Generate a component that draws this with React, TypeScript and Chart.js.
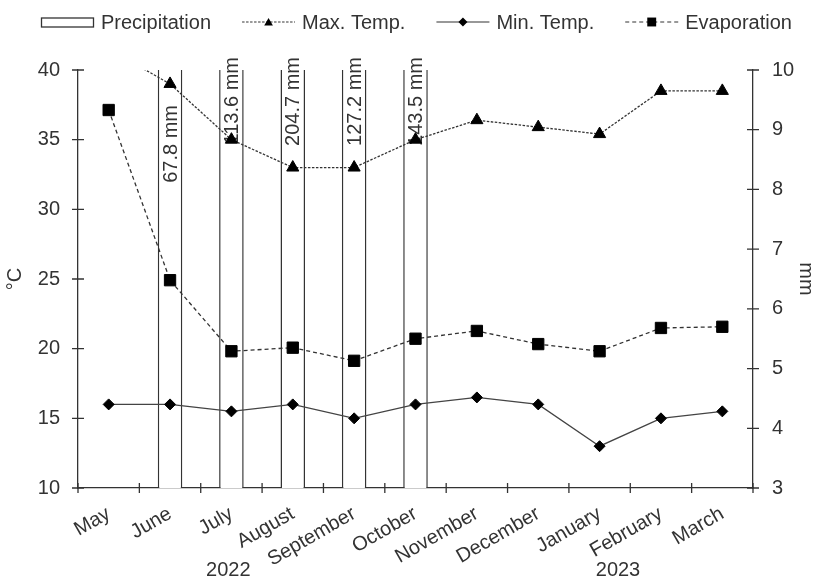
import React, { useEffect, useRef } from 'react';
import { Chart, registerables } from 'chart.js';

Chart.register(...registerables);

const categories = ['May', 'June', 'July', 'August', 'September', 'October', 'November', 'December', 'January', 'February', 'March'];
const precipitation = [null, 67.8, 113.6, 204.7, 127.2, 143.5, null, null, null, null, null];
const maxTemp = [41.5, 39, 35, 33, 33, 35, 36.4, 35.9, 35.4, 38.5, 38.5];
const minTemp = [16, 16, 15.5, 16, 15, 16, 16.5, 16, 13, 15, 15.5];
const evaporation = [9.33, 6.48, 5.29, 5.35, 5.13, 5.5, 5.63, 5.41, 5.29, 5.68, 5.7];
const yearLabels = ['2022', '2023'];

const FONT = '"Liberation Sans", Arial, Helvetica, sans-serif';
const TEXT = '#333333';
const AXIS = '#333333';
const LINE = '#333333';

function drawMarker(ctx: CanvasRenderingContext2D, style: string, x: number, y: number, r: number) {
  ctx.beginPath();
  if (style === 'triangle') {
    ctx.moveTo(x, y - r);
    ctx.lineTo(x + Math.sin((2 * Math.PI) / 3) * r, y - Math.cos((2 * Math.PI) / 3) * r);
    ctx.lineTo(x + Math.sin((4 * Math.PI) / 3) * r, y - Math.cos((4 * Math.PI) / 3) * r);
  } else if (style === 'rectRot') {
    ctx.moveTo(x - r, y);
    ctx.lineTo(x, y - r);
    ctx.lineTo(x + r, y);
    ctx.lineTo(x, y + r);
  } else {
    const s = Math.SQRT1_2 * r;
    ctx.rect(x - s, y - s, 2 * s, 2 * s);
  }
  ctx.closePath();
  ctx.fill();
}

export default function App() {
  const ref = useRef<HTMLCanvasElement>(null);

  useEffect(() => {
    const canvas = ref.current;
    if (!canvas) return;

    const precipLabels = {
      id: 'precipLabels',
      afterDatasetDraw(chart: any, args: any) {
        if (args.index !== 0) return;
        const meta = chart.getDatasetMeta(0);
        const ctx = chart.ctx as CanvasRenderingContext2D;
        const top = chart.chartArea.top;
        ctx.save();
        ctx.font = `20px ${FONT}`;
        ctx.fillStyle = TEXT;
        ctx.textAlign = 'right';
        ctx.textBaseline = 'middle';
        meta.data.forEach((bar: any, i: number) => {
          const v = precipitation[i];
          if (v == null) return;
          const endY = v >= 100 ? top - 13 : top + 35;
          ctx.save();
          ctx.translate(bar.x + 1, endY);
          ctx.rotate(-Math.PI / 2);
          ctx.fillText(`${v.toFixed(1)} mm`, 0, 0);
          ctx.restore();
        });
        ctx.restore();
      },
    };

    const decorations = {
      id: 'decorations',
      afterDraw(chart: any) {
        const ctx = chart.ctx as CanvasRenderingContext2D;
        const { chartArea, scales } = chart;
        // crossing tick marks
        ctx.save();
        ctx.strokeStyle = AXIS;
        ctx.lineWidth = 1.3;
        ctx.beginPath();
        scales.y.ticks.forEach((t: any) => {
          const y = scales.y.getPixelForValue(t.value);
          ctx.moveTo(chartArea.left - 6, y);
          ctx.lineTo(chartArea.left + 6, y);
        });
        scales.y1.ticks.forEach((t: any) => {
          const y = scales.y1.getPixelForValue(t.value);
          ctx.moveTo(chartArea.right - 6, y);
          ctx.lineTo(chartArea.right + 6, y);
        });
        for (let i = 0; i <= categories.length; i++) {
          const x = scales.x.getPixelForValue(i - 0.5);
          ctx.moveTo(x, chartArea.bottom - 5);
          ctx.lineTo(x, chartArea.bottom + 5);
        }
        ctx.stroke();
        ctx.restore();

        // year labels
        ctx.save();
        ctx.font = `20px ${FONT}`;
        ctx.fillStyle = TEXT;
        ctx.textAlign = 'center';
        ctx.textBaseline = 'middle';
        ctx.fillText(yearLabels[0], scales.x.getPixelForValue(1.95), 570);
        ctx.fillText(yearLabels[1], scales.x.getPixelForValue(8.3), 570);
        ctx.restore();

        // legend
        ctx.save();
        ctx.font = `20px ${FONT}`;
        ctx.textAlign = 'left';
        ctx.textBaseline = 'middle';
        let x = 41;
        const cy = 22;
        const sampleW = 53;
        chart.data.datasets.forEach((ds: any) => {
          ctx.strokeStyle = '#333';
          ctx.fillStyle = '#000';
          if (ds.type === 'bar') {
            ctx.lineWidth = 1.3;
            ctx.setLineDash([]);
            ctx.strokeRect(x + 0.5, cy - 4, sampleW - 1, 9);
          } else {
            ctx.lineWidth = 1.2;
            ctx.setLineDash(ds.borderDash || []);
            ctx.beginPath();
            ctx.moveTo(x, cy);
            ctx.lineTo(x + sampleW, cy);
            ctx.stroke();
            ctx.setLineDash([]);
            const r = ds.pointStyle === 'triangle' ? 5 : ds.pointStyle === 'rectRot' ? 4.5 : 6.3;
            drawMarker(ctx, ds.pointStyle, x + sampleW / 2, cy + (ds.pointStyle === 'triangle' ? 1 : 0), r);
          }
          x += sampleW + 7;
          ctx.fillStyle = TEXT;
          ctx.fillText(ds.label, x, cy + 1);
          x += ctx.measureText(ds.label).width + 31;
        });
        ctx.restore();
      },
    };

    const chart = new Chart(canvas, {
      data: {
        labels: categories,
        datasets: [
          {
            type: 'bar',
            label: 'Precipitation',
            data: precipitation,
            yAxisID: 'y1',
            backgroundColor: '#ffffff',
            borderColor: '#333333',
            borderWidth: 1.5,
            borderSkipped: 'start',
            barPercentage: 0.4,
            categoryPercentage: 1.0,
            order: 10,
          },
          {
            type: 'line',
            label: 'Max. Temp.',
            data: maxTemp,
            yAxisID: 'y',
            borderColor: LINE,
            borderWidth: 1.3,
            borderDash: [2.5, 1.5],
            pointStyle: 'triangle',
            pointRadius: 7,
            pointBackgroundColor: '#000',
            pointBorderColor: '#000',
            pointBorderWidth: 1,
            tension: 0,
            order: 1,
          },
          {
            type: 'line',
            label: 'Min. Temp.',
            data: minTemp,
            yAxisID: 'y',
            borderColor: '#444444',
            borderWidth: 1.3,
            pointStyle: 'rectRot',
            pointRadius: 5.5,
            pointBackgroundColor: '#000',
            pointBorderColor: '#000',
            pointBorderWidth: 1,
            tension: 0,
            order: 2,
          },
          {
            type: 'line',
            label: 'Evaporation',
            data: evaporation,
            yAxisID: 'y1',
            borderColor: LINE,
            borderWidth: 1.3,
            borderDash: [4, 3],
            pointStyle: 'rect',
            pointRadius: 8,
            pointBackgroundColor: '#000',
            pointBorderColor: '#000',
            pointBorderWidth: 1,
            tension: 0,
            order: 3,
          },
        ],
      } as any,
      options: {
        animation: false,
        responsive: true,
        maintainAspectRatio: false,
        layout: { padding: { top: 70, left: 0, right: 0, bottom: 0 } },
        plugins: {
          legend: { display: false },
          tooltip: { enabled: false },
        },
        scales: {
          x: {
            type: 'category',
            offset: true,
            grid: { display: false, drawTicks: false, offset: true },
            border: { display: true, color: AXIS, width: 1.3 },
            ticks: {
              font: { family: FONT, size: 20 },
              color: TEXT,
              minRotation: 30,
              maxRotation: 30,
              autoSkip: false,
              padding: 14,
            },
            afterFit(s: any) {
              s.height = 93;
            },
          },
          y: {
            type: 'linear',
            position: 'left',
            min: 10,
            max: 40,
            grid: { display: false, drawTicks: false },
            border: { display: true, color: AXIS, width: 1.3 },
            ticks: { stepSize: 5, font: { family: FONT, size: 20 }, color: TEXT, padding: 18 },
            title: { display: true, text: '°C', font: { family: FONT, size: 20 }, color: TEXT, padding: { top: 3, bottom: 0 } },
            afterFit(s: any) {
              s.width = 78;
            },
          },
          y1: {
            type: 'linear',
            position: 'right',
            min: 3,
            max: 10,
            grid: { display: false, drawTicks: false },
            border: { display: true, color: AXIS, width: 1.3 },
            ticks: { stepSize: 1, font: { family: FONT, size: 20 }, color: TEXT, padding: 19 },
            title: { display: true, text: 'mm', font: { family: FONT, size: 20 }, color: TEXT, padding: { top: 0, bottom: 0 } },
            afterFit(s: any) {
              s.width = 65;
            },
          },
        },
      } as any,
      plugins: [precipLabels, decorations],
    });

    return () => {
      chart.destroy();
    };
  }, []);

  return (
    <div style={{ position: 'absolute', left: 0, top: 0, width: 818, height: 581, background: '#ffffff' }}>
      <canvas ref={ref} />
    </div>
  );
}
